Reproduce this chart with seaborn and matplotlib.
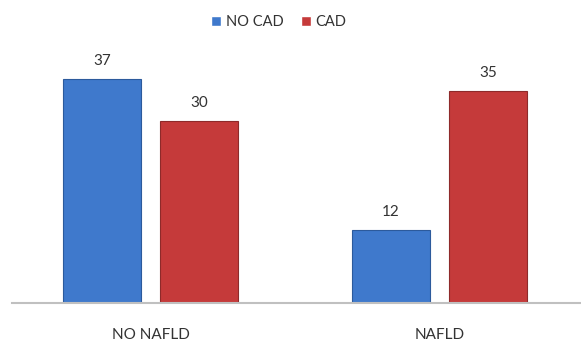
import matplotlib
matplotlib.use("Agg")
import matplotlib.pyplot as plt
import seaborn as sns
import pandas as pd

categories = ["NO NAFLD", "NAFLD"]
series = ["NO CAD", "CAD"]
no_cad = [37, 12]
cad = [30, 35]

df = pd.DataFrame({
    "group": categories * 2,
    "series": [series[0]] * 2 + [series[1]] * 2,
    "value": no_cad + cad,
})

sns.set_theme(style="white")
plt.rcParams["font.family"] = ["Lato", "DejaVu Sans"]

fig = plt.figure(figsize=(5.81, 3.43), dpi=100)
ax = fig.add_axes([0.0207, 0.1166, 0.9793, 0.7067])

palette = {"NO CAD": "#3f79cc", "CAD": "#c53a3a"}
sns.barplot(data=df, x="group", y="value", hue="series", order=categories,
            hue_order=series, palette=palette, width=0.675, gap=0.2,
            ax=ax, legend=True, saturation=1)

edge = {"NO CAD": "#2c5a9c", "CAD": "#8e2a2a"}
for cont, s in zip(ax.containers, series):
    for p in cont:
        p.set_edgecolor(edge[s])
        p.set_linewidth(0.8)
    ax.bar_label(cont, padding=8, fontsize=11, color="#333333")

ax.set_xlim(-0.48, 1.49)
ax.set_ylim(0, 40)
ax.set_xlabel("")
ax.set_ylabel("")
ax.set_yticks([])
ax.tick_params(axis="x", length=0, pad=18, labelsize=11, colors="#333333")
for side in ["top", "right", "left"]:
    ax.spines[side].set_visible(False)
ax.spines["bottom"].set_color("#c0c0c0")
ax.spines["bottom"].set_linewidth(1.5)

leg = ax.legend(loc="upper center", bbox_to_anchor=(0.48, 0.995), bbox_transform=fig.transFigure,
                ncol=2, frameon=False, fontsize=10.5, handlelength=0.7, handleheight=0.7,
                handletextpad=0.3, columnspacing=1.2)
for t in leg.get_texts():
    t.set_color("#333333")

fig.savefig("out.png", dpi=100)
